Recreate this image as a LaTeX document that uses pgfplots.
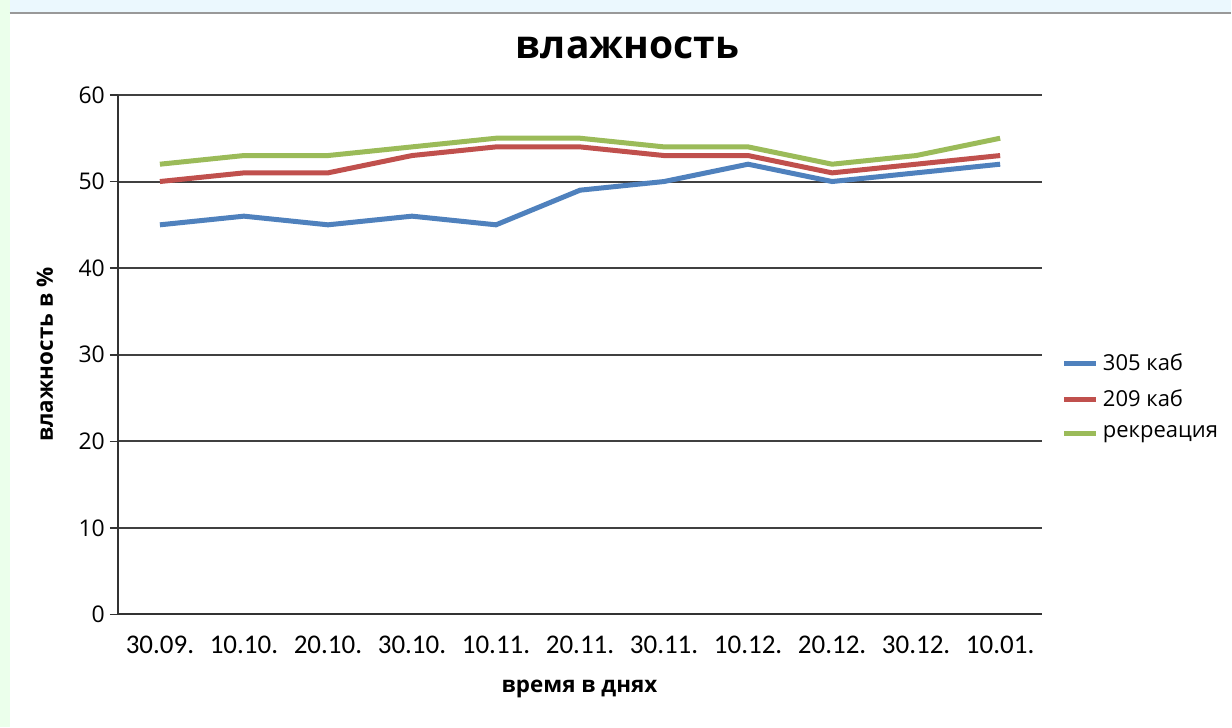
\documentclass[border=0pt]{standalone}
\usepackage{pgfplots}
\pgfplotsset{compat=1.18}
\usepackage{fontspec}
\setmainfont{Open Sans}
\newfontfamily\carl{Carlito}
\definecolor{s1}{HTML}{4F81BD}
\definecolor{s2}{HTML}{C0504D}
\definecolor{s3}{HTML}{9BBB59}
\begin{document}
\begin{tikzpicture}[x=1pt,y=1pt]
\fill[white] (0,0) rectangle (616,364);
\fill[cyan!8] (0,358) rectangle (616,364);
\fill[green!8] (0,0) rectangle (5,364);
\draw[black!40, line width=1pt] (5,357.5) -- (616,357.5);
\begin{axis}[
  at={(59pt,56.5pt)}, anchor=south west,
  scale only axis, width=462.5pt, height=260pt,
  xmin=-0.5, xmax=10.5, ymin=0, ymax=60,
  xtick={0,...,10},
  xticklabels={30.09.,10.10.,20.10.,30.10.,10.11.,20.11.,30.11.,10.12.,20.12.,30.12.,10.01.},
  xticklabel style={font=\carl\fontsize{13.5}{15}\selectfont, yshift=-3pt},
  ytick={0,10,...,60},
  yticklabel style={font=\fontsize{11.5}{13}\selectfont, xshift=1pt},
  /pgf/number format/assume math mode=true,
  axis x line*=bottom, axis y line*=left,
  axis line style={black!80, line width=1pt, -},
  x axis line style={draw=none},
  ymajorgrids, grid style={black!75, line width=1pt},
  tick align=outside, major tick length=4pt,
  xtick style={draw=none}, ytick style={black!80, line width=0.8pt},
  legend style={draw=none, fill=none, at={(1.021,0.51)}, anchor=north west,
    font=\fontsize{11}{12}\selectfont, row sep=4pt, inner sep=0pt},
  legend cell align=left,
  legend image code/.code={\draw[#1, line width=2.5pt] (0pt,0pt) -- (16pt,0pt);},
  clip=false,
]
\addplot[s1, line width=2.5pt] coordinates {(0,45)(1,46)(2,45)(3,46)(4,45)(5,49)(6,50)(7,52)(8,50)(9,51)(10,52)};
\addplot[s2, line width=2.5pt] coordinates {(0,50)(1,51)(2,51)(3,53)(4,54)(5,54)(6,53)(7,53)(8,51)(9,52)(10,53)};
\addplot[s3, line width=2.5pt] coordinates {(0,52)(1,53)(2,53)(3,54)(4,55)(5,55)(6,54)(7,54)(8,52)(9,53)(10,55)};
\legend{305 каб, 209 каб, рекреация}
\draw[black!80, line width=1pt] (axis cs:-0.5,0) -- (axis cs:10.5,0);
\end{axis}
\node[font=\bfseries\fontsize{19.5}{22}\selectfont] at (314,340) {влажность};
\node[font=\bfseries\fontsize{11.2}{13}\selectfont, rotate=90] at (22.5,186.5) {влажность в \%};
\node[font=\bfseries\fontsize{11.2}{13}\selectfont] at (290,19) {время в днях};
\end{tikzpicture}
\end{document}
